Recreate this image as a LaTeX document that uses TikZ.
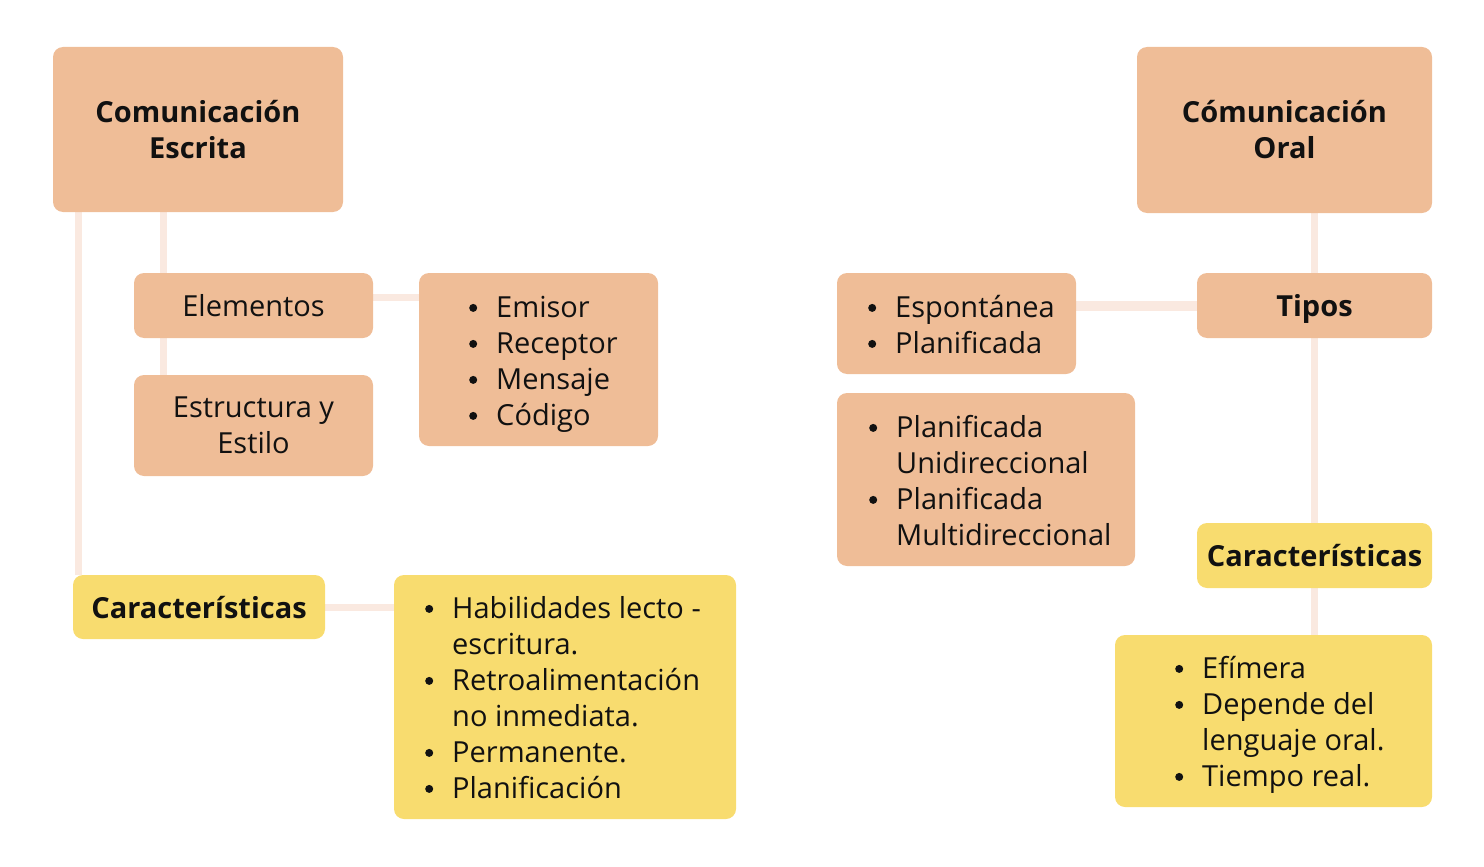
\documentclass[tikz,border=0pt]{standalone}
\usepackage{fontspec}
\setmainfont{Open Sans}
\usetikzlibrary{backgrounds}
\definecolor{boxorange}{HTML}{EFBD97}
\definecolor{boxyellow}{HTML}{F8DC6F}
\definecolor{linkc}{HTML}{FAE9E0}
\definecolor{txt}{HTML}{111111}
\newcommand{\bl}{\makebox[27pt][l]{\tikz[baseline=0pt]\fill[txt] (4pt,9.5pt) circle (4pt);}}
\tikzset{
  x=1pt, y=-1pt,
  box/.style={rounded corners=10pt, inner sep=0pt, align=center, text=txt,
    font=\fontsize{29}{36}\selectfont},
  obox/.style={box, fill=boxorange},
  ybox/.style={box, fill=boxyellow},
  oneline/.style={text height=28pt, text depth=6pt},
  title/.style={font=\fontsize{29}{36}\selectfont\bfseries},
  listtxt/.style={inner sep=0pt, anchor=north west, text=txt, align=left,
    font=\fontsize{29}{36}\selectfont},
  link/.style={draw=linkc, line width=7pt},
}
\begin{document}
\begin{tikzpicture}
\useasboundingbox (0,0) rectangle (1484,867);
\coordinate (xl) at (78,0);
\coordinate (xm) at (163,0);
\coordinate (ye) at (0,297);
% left side
\node[obox, title, minimum width=290pt, minimum height=165pt] (escrita) at (198,129.5) {Comunicación\\Escrita};
\node[obox, oneline, minimum width=239pt, minimum height=65pt] (elem) at (253.5,305.5) {Elementos};
\node[obox, minimum width=239pt, minimum height=101pt] (estr) at (253.5,425.5) {Estructura y\\Estilo};
\node[obox, minimum width=239pt, minimum height=173pt] (emisor) at (538.5,359.5) {};
\node[listtxt] (emisortxt) at (469,292) {\begin{tabular}{@{}l@{}l@{}}\bl&Emisor\\\bl&Receptor\\\bl&Mensaje\\\bl&Código\end{tabular}};
\node[ybox, title, oneline, minimum width=252pt, minimum height=64pt] (carL) at (199,607) {Características};
\node[ybox, minimum width=342pt, minimum height=244pt] (hab) at (565,697) {};
\node[listtxt] (habtxt) at (425,593) {\begin{tabular}{@{}l@{}l@{}}\bl&Habilidades lecto -\\&escritura.\\\bl&Retroalimentación\\&no inmediata.\\\bl&Permanente.\\\bl&Planificación\end{tabular}};
% right side
\node[obox, title, minimum width=295pt, minimum height=166pt] (oral) at (1284.5,130) {Cómunicación\\Oral};
\node[obox, title, oneline, minimum width=235pt, minimum height=65pt] (tipos) at (1314.5,305.5) {Tipos};
\node[obox, minimum width=239pt, minimum height=101pt] (espont) at (956.5,323.5) {};
\node[listtxt] (esponttxt) at (868,292) {\begin{tabular}{@{}l@{}l@{}}\bl&Espontánea\\\bl&Planificada\end{tabular}};
\node[obox, minimum width=298pt, minimum height=173pt] (planif) at (986,479.5) {};
\node[listtxt] (planiftxt) at (869,412) {\begin{tabular}{@{}l@{}l@{}}\bl&Planificada\\&Unidireccional\\\bl&Planificada\\&Multidireccional\end{tabular}};
\node[ybox, title, oneline, minimum width=235pt, minimum height=65pt] (carR) at (1314.5,555.5) {Características};
\node[ybox, minimum width=317pt, minimum height=172pt] (efim) at (1273.5,721) {};
\node[listtxt] (efimtxt) at (1175,653) {\begin{tabular}{@{}l@{}l@{}}\bl&Efímera\\\bl&Depende del\\&lenguaje oral.\\\bl&Tiempo real.\end{tabular}};
\begin{scope}[on background layer]
\draw[link] (escrita.south -| xl) -- (carL.north -| xl);
\draw[link] (escrita.south -| xm) -- (elem.north -| xm);
\draw[link] (elem.south -| xm) -- (estr.north -| xm);
\draw[link] (elem.east |- ye) -- (emisor.west |- ye);
\draw[link] (carL.east) -- (hab.west |- carL.east);
\draw[link] (oral.south -| tipos.north) -- (tipos.north);
\draw[link] (tipos.south) -- (carR.north);
\draw[link] (carR.south) -- (efim.north -| carR.south);
\draw[link, line width=10pt] (tipos.west) -- (espont.east |- tipos.west);
\end{scope}
\end{tikzpicture}
\end{document}
